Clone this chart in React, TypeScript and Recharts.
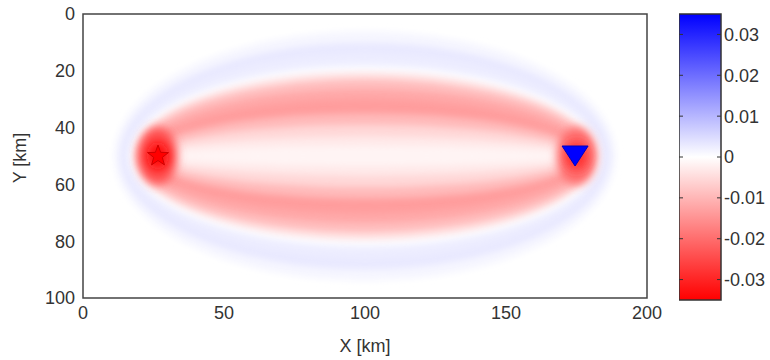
import { ComposedChart, XAxis, YAxis, Scatter, ReferenceArea, Label } from 'recharts';

const xTicks = [0, 50, 100, 150, 200];
const yTicks = [0, 20, 40, 60, 80, 100];
const barTicks = [-0.03, -0.02, -0.01, 0, 0.01, 0.02, 0.03];
const barMin = -0.035;
const barMax = 0.035;

// kernel contour rings, outermost first (semi-axes in km, kernel value)
const ringCx = 100;
const ringCy = 50;
const ringRx = [89, 87, 85, 83.5, 82, 81, 79.5, 78, 76.5, 75.5, 74.5, 73.5];
const ringRy = [44, 40, 36, 32, 29.5, 27, 23.5, 20, 15, 11, 7, 3.5];
const ringValue = [0.0012, 0.003, 0.0025, 0.0005, -0.004, -0.009, -0.012, -0.0135, -0.0095, -0.0055, -0.003, -0.0015];

// hot spots at source / receiver
const blobX = [26.5, 26.5, 175, 175];
const blobRx = [7, 4, 7, 4];
const blobRy = [10, 5, 10, 5];
const blobValue = [-0.024, -0.034, -0.02, -0.028];

const source = [{ x: 26.6, y: 50 }];
const receiver = [{ x: 174.5, y: 50 }];
const barRange = [{ x: 0, y: barMin }, { x: 1, y: barMax }];

const colorOf = (v: number) => {
  const t = Math.min(1, Math.abs(v) / barMax);
  const c = Math.round(255 * (1 - t));
  return v < 0 ? `rgb(255,${c},${c})` : `rgb(${c},${c},255)`;
};

const ellipseShape = (fill: string, filter: string) => (props: any) => (
  <ellipse
    cx={props.x + props.width / 2}
    cy={props.y + props.height / 2}
    rx={Math.abs(props.width) / 2}
    ry={Math.abs(props.height) / 2}
    fill={fill}
    filter={filter}
  />
);

const Star = (props: any) => {
  const { cx, cy } = props;
  const pts: string[] = [];
  for (let i = 0; i < 10; i++) {
    const r = i % 2 === 0 ? 11 : 4.5;
    const a = -Math.PI / 2 + (i * Math.PI) / 5;
    pts.push(`${cx + r * Math.cos(a)},${cy + r * Math.sin(a)}`);
  }
  return <polygon points={pts.join(' ')} fill="#ff0000" stroke="#d00000" strokeWidth={1} />;
};

const Triangle = (props: any) => {
  const { cx, cy } = props;
  return (
    <polygon
      points={`${cx - 13},${cy - 10} ${cx + 13},${cy - 10} ${cx},${cy + 10}`}
      fill="#0000ff"
      stroke="#0000c0"
      strokeWidth={1}
    />
  );
};

const BarTick = (props: any) => {
  const { x, y, payload } = props;
  const right = x - 3;
  const left = right - 42;
  return (
    <g>
      <line x1={right - 4} y1={y} x2={right} y2={y} stroke="#333" />
      <line x1={left} y1={y} x2={left + 4} y2={y} stroke="#333" />
      <text x={x} y={y} dy="0.36em" textAnchor="start" fill="#333" fontSize={18}>
        {String(payload.value)}
      </text>
    </g>
  );
};

const tickStyle = { fontSize: 18, fill: '#333' };

export default function App() {
  return (
    <div style={{ position: 'fixed', left: 0, top: 0, width: 770, height: 360, background: '#fff', fontFamily: '"Liberation Sans", Arial, sans-serif' }}>
      <ComposedChart width={770} height={360} margin={{ top: 14, right: 123, bottom: 0, left: 0 }}>
        <defs>
          <filter id="soft" x="-50%" y="-100%" width="200%" height="300%">
            <feGaussianBlur stdDeviation="3.2" />
          </filter>
          <filter id="softer" x="-100%" y="-100%" width="300%" height="300%">
            <feGaussianBlur stdDeviation="5" />
          </filter>
        </defs>
        <XAxis
          type="number"
          dataKey="x"
          domain={[0, 200]}
          ticks={xTicks}
          axisLine={false}
          tickLine={false}
          tick={tickStyle}
          height={62}
        >
          <Label value="X [km]" position="insideBottom" offset={8} style={{ fontSize: 18, fill: '#333' }} />
        </XAxis>
        <YAxis
          type="number"
          dataKey="y"
          domain={[0, 100]}
          ticks={yTicks}
          reversed
          axisLine={false}
          tickLine={false}
          tick={tickStyle}
          width={83}
        >
          <Label
            content={(p: any) => {
              const vb = p.viewBox;
              const cx = vb.x + 20;
              const cy = vb.y + vb.height / 2 + 2;
              return (
                <text x={cx} y={cy} transform={`rotate(-90, ${cx}, ${cy})`} textAnchor="middle" dy="0.36em" fill="#333" fontSize={18}>
                  Y [km]
                </text>
              );
            }}
          />
        </YAxis>
        {ringRx.map((rx, i) => (
          <ReferenceArea
            key={`ring-${i}`}
            x1={ringCx - rx}
            x2={ringCx + rx}
            y1={ringCy - ringRy[i]}
            y2={ringCy + ringRy[i]}
            ifOverflow="visible"
            shape={ellipseShape(colorOf(ringValue[i]), 'url(#soft)')}
          />
        ))}
        {blobX.map((bx, i) => (
          <ReferenceArea
            key={`blob-${i}`}
            x1={bx - blobRx[i]}
            x2={bx + blobRx[i]}
            y1={ringCy - blobRy[i]}
            y2={ringCy + blobRy[i]}
            ifOverflow="visible"
            shape={ellipseShape(colorOf(blobValue[i]), 'url(#softer)')}
          />
        ))}
        <ReferenceArea x1={0} x2={200} y1={0} y2={100} ifOverflow="visible" fill="none" fillOpacity={0} stroke="#444" strokeWidth={1.5} />
        <Scatter data={source} shape={Star} isAnimationActive={false} />
        <Scatter data={receiver} shape={Triangle} isAnimationActive={false} />
      </ComposedChart>
      <div style={{ position: 'absolute', left: 679, top: 0 }}>
        <ComposedChart width={91} height={360} margin={{ top: 14, right: 0, bottom: 60, left: 0 }}>
          <defs>
            <linearGradient id="cbar" x1="0" y1="0" x2="0" y2="1">
              <stop offset="0%" stopColor="#0000ff" />
              <stop offset="50%" stopColor="#ffffff" />
              <stop offset="100%" stopColor="#ff0000" />
            </linearGradient>
          </defs>
          <XAxis type="number" dataKey="x" domain={[0, 1]} hide />
          <YAxis
            type="number"
            dataKey="y"
            orientation="right"
            domain={[barMin, barMax]}
            ticks={barTicks}
            axisLine={false}
            tickLine={false}
            tickSize={0}
            tickMargin={3}
            tick={<BarTick />}
            width={49}
            interval={0}
          />
          <ReferenceArea x1={0} x2={1} y1={barMin} y2={barMax} ifOverflow="visible" fill="url(#cbar)" fillOpacity={1} stroke="#333" strokeWidth={1.5} />
          <Scatter data={barRange} shape={() => <g />} isAnimationActive={false} />
        </ComposedChart>
      </div>
    </div>
  );
}
